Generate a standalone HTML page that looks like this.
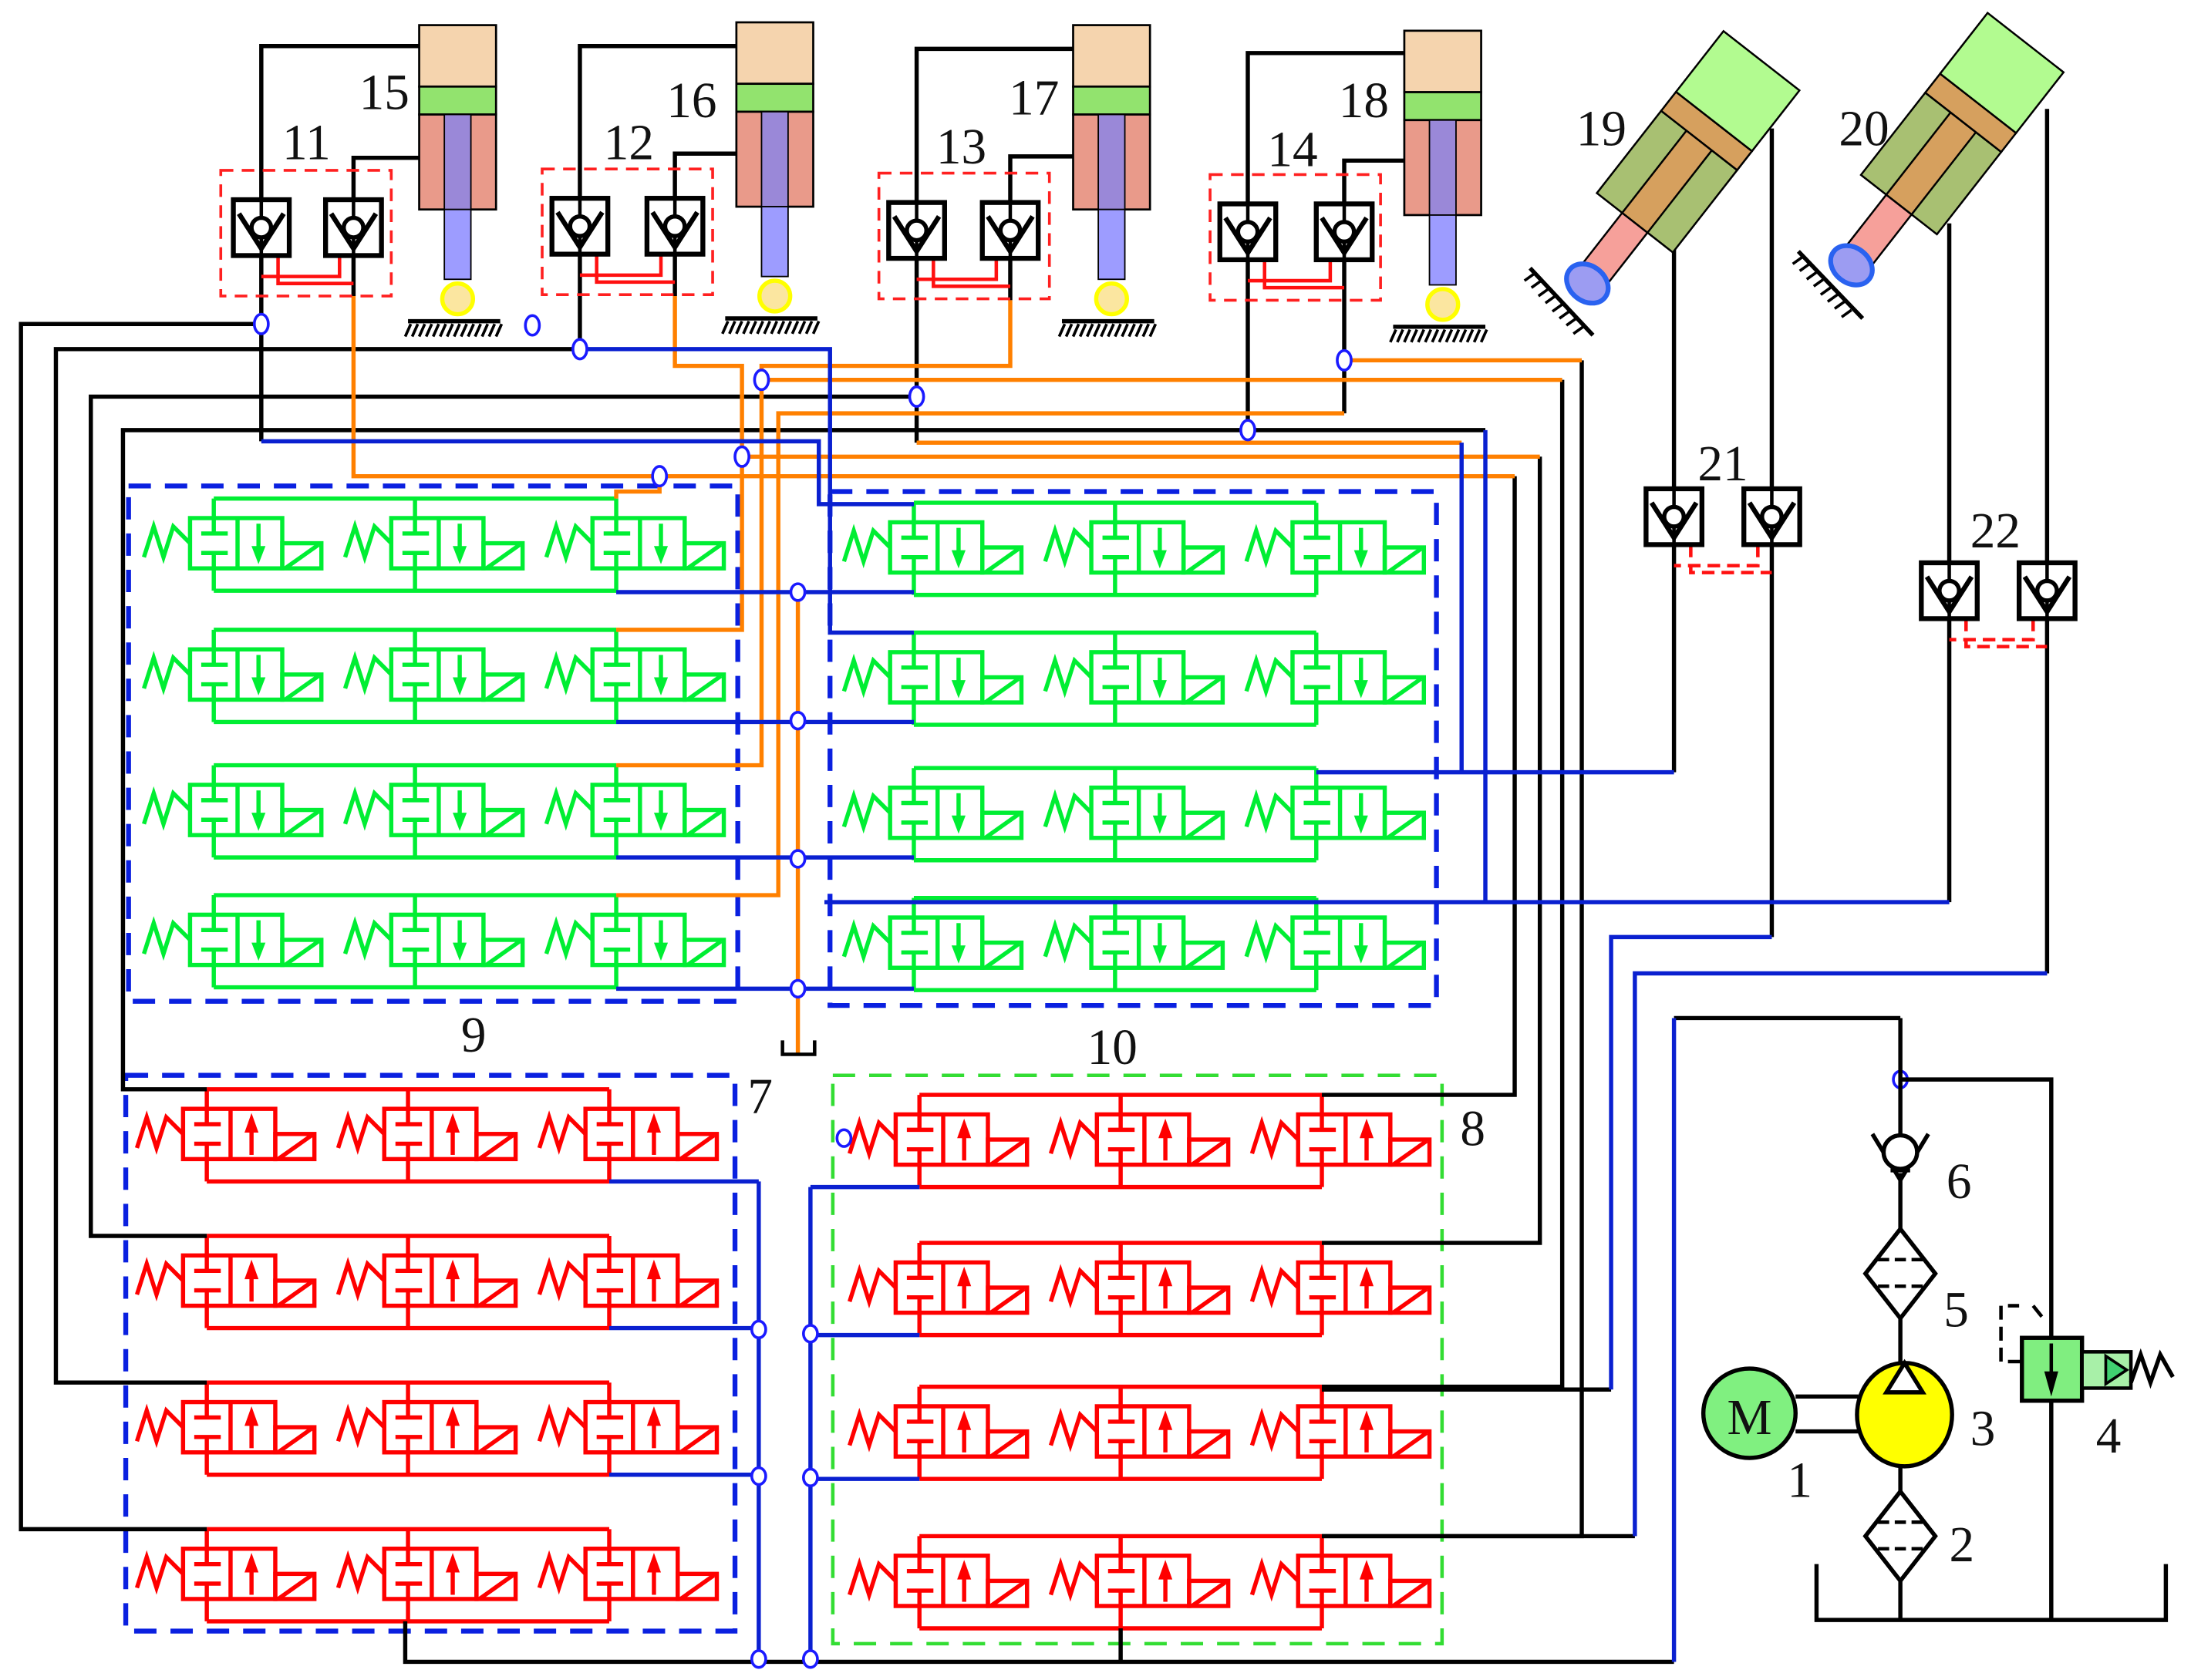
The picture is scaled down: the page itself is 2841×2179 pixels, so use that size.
<!DOCTYPE html>
<html><head><meta charset="utf-8"><style>
html,body{margin:0;padding:0;background:#fff;}
svg{display:block;}
text{font-family:"Liberation Serif",serif;fill:#111;}
</style></head><body>
<svg width="2841" height="2179" viewBox="0 0 1568 1203" preserveAspectRatio="none" xmlns="http://www.w3.org/2000/svg">
<defs>
<g id="vd" fill="none" stroke-width="3" stroke-linejoin="miter">
 <polyline points="1,42 8,20 15,42 22,20 34,32"/>
 <rect x="34" y="14" width="66" height="36"/>
 <line x1="68" y1="14" x2="68" y2="50"/>
 <line x1="51" y1="0" x2="51" y2="25"/><line x1="51" y1="39" x2="51" y2="66"/>
 <line x1="42" y1="25" x2="61" y2="25"/><line x1="42" y1="39" x2="61" y2="39"/>
 <line x1="83" y1="18" x2="83" y2="38"/>
 <polygon points="78,34 88,34 83,47" fill="currentColor" stroke="none"/>
 <rect x="100" y="32" width="28" height="18"/>
 <line x1="102" y1="50" x2="126" y2="33"/>
</g>
<g id="vu" fill="none" stroke-width="3">
 <polyline points="1,42 8,20 15,42 22,20 34,32"/>
 <rect x="34" y="14" width="66" height="36"/>
 <line x1="68" y1="14" x2="68" y2="50"/>
 <line x1="51" y1="0" x2="51" y2="25"/><line x1="51" y1="39" x2="51" y2="66"/>
 <line x1="42" y1="25" x2="61" y2="25"/><line x1="42" y1="39" x2="61" y2="39"/>
 <line x1="83" y1="28" x2="83" y2="47"/>
 <polygon points="78,31 88,31 83,17" fill="currentColor" stroke="none"/>
 <rect x="100" y="32" width="28" height="18"/>
 <line x1="102" y1="50" x2="126" y2="33"/>
</g>
<g id="rowd" style="stroke:currentColor">
 <use href="#vd" x="0"/><use href="#vd" x="144"/><use href="#vd" x="288"/>
 <line x1="51" y1="0" x2="339" y2="0" stroke-width="3"/>
 <line x1="51" y1="66" x2="339" y2="66" stroke-width="3"/>
</g>
<g id="rowu" style="stroke:currentColor">
 <use href="#vu" x="0"/><use href="#vu" x="144"/><use href="#vu" x="288"/>
 <line x1="51" y1="0" x2="339" y2="0" stroke-width="3"/>
 <line x1="51" y1="66" x2="339" y2="66" stroke-width="3"/>
</g>
<g id="cv">
 <rect x="-20" y="0" width="40" height="40" fill="#fff" stroke="#000" stroke-width="3.5"/>
 <line x1="0" y1="0" x2="0" y2="40" stroke="#000" stroke-width="2.5"/>
 <polyline points="-16,10 0,35 16,10" fill="none" stroke="#000" stroke-width="3.5"/>
 <circle cx="0" cy="20" r="7" fill="#fff" stroke="#000" stroke-width="3"/>
</g>
<g id="vcyl">
 <rect x="0" y="0" width="55" height="44" fill="#f5d4ae" stroke="#000" stroke-width="1.5"/>
 <rect x="0" y="44" width="55" height="20" fill="#92e36e" stroke="#000" stroke-width="1.5"/>
 <rect x="0" y="64" width="55" height="68" fill="#e99a8a" stroke="#000" stroke-width="1.5"/>
 <rect x="18" y="64" width="19" height="68" fill="#9a88d8" stroke="#000" stroke-width="1"/>
 <rect x="18" y="132" width="19" height="50" fill="#9d9cff" stroke="#000" stroke-width="1"/>
 <circle cx="27.5" cy="196" r="11" fill="#fbe6a0" stroke="#ffff00" stroke-width="3"/>
 <line x1="-8" y1="212" x2="58" y2="212" stroke="#000" stroke-width="3"/>
 <path d="M-6,214 l-4,9 M-1,214 l-4,9 M4,214 l-4,9 M9,214 l-4,9 M14,214 l-4,9 M19,214 l-4,9 M24,214 l-4,9 M29,214 l-4,9 M34,214 l-4,9 M39,214 l-4,9 M44,214 l-4,9 M49,214 l-4,9 M54,214 l-4,9 M59,214 l-4,9" stroke="#000" stroke-width="2"/>
</g>
<g id="acyl">
 <rect x="8" y="-10" width="50" height="20" fill="#f6a09a" stroke="#000" stroke-width="1.2"/>
 <rect x="48" y="-30" width="65" height="60" fill="#a8c072" stroke="#000" stroke-width="1.2"/>
 <rect x="48" y="-10" width="65" height="20" fill="#d6a05e" stroke="#000" stroke-width="1.2"/>
 <rect x="113" y="-30" width="15" height="60" fill="#d6a05e" stroke="#000" stroke-width="1.2"/>
 <rect x="128" y="-30" width="48" height="60" fill="#b2fb90" stroke="#000" stroke-width="1.2"/>
 <ellipse cx="0" cy="0" rx="11" ry="14" fill="#9c9cf2" stroke="#2a62f0" stroke-width="3"/>
</g>
</defs>

<g fill="none" stroke-width="3.5" stroke-dasharray="16,10">
 <rect x="92" y="348" width="436" height="369" stroke="#0a20e0"/>
 <rect x="594" y="352" width="434" height="368" stroke="#0a20e0"/>
 <rect x="90" y="770" width="436" height="398" stroke="#0a20e0"/>
 <rect x="596" y="770" width="436" height="407" stroke="#33dd33" stroke-width="2.5"/>
</g>

<g style="color:#00ee33">
 <use href="#rowd" x="102" y="357"/><use href="#rowd" x="102" y="451"/><use href="#rowd" x="102" y="548"/><use href="#rowd" x="102" y="641"/>
 <use href="#rowd" x="603" y="360"/><use href="#rowd" x="603" y="453"/><use href="#rowd" x="603" y="550"/><use href="#rowd" x="603" y="643"/>
</g>
<g style="color:#ff0000">
 <use href="#rowu" x="97" y="780"/><use href="#rowu" x="97" y="885"/><use href="#rowu" x="97" y="990"/><use href="#rowu" x="97" y="1095"/>
 <use href="#rowu" x="607" y="784"/><use href="#rowu" x="607" y="890"/><use href="#rowu" x="607" y="993"/><use href="#rowu" x="607" y="1100"/>
</g>

<g fill="none" stroke-width="3" stroke-linejoin="miter">
 <g stroke="#000">
  <path d="M300,33 H187 V143 M187,183 V316"/>
  <path d="M187,232 H15 V1095 H148"/>
  <path d="M300,113 H253 V143 M253,183 V212"/>
  <path d="M1084,341 V784 H946"/>
  <path d="M527,33 H415 V142 M415,182 V250"/>
  <path d="M415,250 H40 V990 H148"/>
  <path d="M527,110 H483 V142 M483,182 V212"/>
  <path d="M1102,327 V890 H946"/>
  <path d="M768,35 H656 V145 M656,185 V317"/>
  <path d="M656,284 H65 V885 H148"/>
  <path d="M768,112 H723 V145 M723,185 V215"/>
  <path d="M1118,272 V993 H946"/>
  <path d="M1005,38 H893 V146 M893,186 V308"/>
  <path d="M893,308 H88 V780 H148"/>
  <path d="M893,308 H1063"/>
  <path d="M1005,115 H962 V146 M962,186 V296"/>
  <path d="M1132,258 V1100 H946"/>
  <path d="M1198,178 V350 M1198,390 V553"/>
  <path d="M1268,92 V350 M1268,390 V671"/>
  <path d="M1395,160 V403 M1395,443 V646"/>
  <path d="M1465,78 V403 M1465,443 V697"/>
  <path d="M1153,995 H946"/>
  <path d="M1170,1100 H946"/>
  <path d="M1360,729 H1198"/>
  <path d="M1198,1190 H290 V1161"/>
  <path d="M802,1166 V1190"/>
 </g>
 <g stroke="#ff8000">
  <path d="M253,212 V341 H1084"/>
  <path d="M472,341 V352 H441 V357"/>
  <path d="M483,212 V262 H531 V451 H441"/>
  <path d="M531,327 H1102"/>
  <path d="M656,317 H1046"/>
  <path d="M723,215 V262 H545 V548 H441"/>
  <path d="M545,272 H1118"/>
  <path d="M962,296 H557 V641 H441"/>
  <path d="M962,258 H1132"/>
  <path d="M571,418 V755"/>
 </g>
 <g stroke="#0a20d0">
  <path d="M187,316 H586 V361 H654"/>
  <path d="M415,250 H594 V453 H654"/>
  <path d="M1046,317 V553"/>
  <path d="M1063,308 V646"/>
  <path d="M942,553 H1198"/>
  <path d="M590,646 H1395"/>
  <path d="M1268,671 H1153 V995"/>
  <path d="M1465,697 H1170 V1100"/>
  <path d="M1198,729 V1190"/>
  <path d="M441,424 H654 M441,517 H654 M441,614 H654 M441,708 H654"/>
  <path d="M436,846 H543 M436,951 H543 M436,1056 H543 M543,846 V1190"/>
  <path d="M658,850 H580 M658,956 H580 M658,1059 H580 M580,850 V1190"/>
 </g>
 <path d="M560,745 V755 H583 V745" stroke="#000" stroke-width="2.5"/>
</g>

<g fill="#fff" stroke="#1a1aff" stroke-width="2">
 <ellipse cx="187" cy="232" rx="5" ry="7"/><ellipse cx="415" cy="250" rx="5" ry="7"/>
 <ellipse cx="656" cy="284" rx="5" ry="7"/><ellipse cx="893" cy="308" rx="5" ry="7"/>
 <ellipse cx="962" cy="258" rx="5" ry="7"/><ellipse cx="545" cy="272" rx="5" ry="7"/>
 <ellipse cx="531" cy="327" rx="5" ry="7"/><ellipse cx="472" cy="341" rx="5" ry="7"/>
 <ellipse cx="381" cy="233" rx="5" ry="7"/><ellipse cx="604" cy="815" rx="5" ry="6"/>
 <ellipse cx="571" cy="424" rx="5" ry="6"/><ellipse cx="571" cy="516" rx="5" ry="6"/>
 <ellipse cx="571" cy="615" rx="5" ry="6"/><ellipse cx="571" cy="708" rx="5" ry="6"/>
 <ellipse cx="543" cy="952" rx="5" ry="6"/><ellipse cx="543" cy="1057" rx="5" ry="6"/><ellipse cx="543" cy="1188" rx="5" ry="6"/>
 <ellipse cx="580" cy="955" rx="5" ry="6"/><ellipse cx="580" cy="1058" rx="5" ry="6"/><ellipse cx="580" cy="1188" rx="5" ry="6"/>
 <ellipse cx="1360" cy="773" rx="5" ry="6"/>
</g>

<use href="#vcyl" x="300" y="18"/>
<use href="#vcyl" x="527" y="16"/>
<use href="#vcyl" x="768" y="18"/>
<use href="#vcyl" x="1005" y="22"/>

<g fill="none" stroke="#ff2020" stroke-width="2" stroke-dasharray="9,6">
 <rect x="158" y="122" width="122" height="90"/>
 <rect x="388" y="121" width="122" height="90"/>
 <rect x="629" y="124" width="122" height="90"/>
 <rect x="866" y="125" width="122" height="90"/>
</g>
<g fill="none" stroke="#ff1010" stroke-width="2.5">
 <path d="M199,183 V203 H253 M243,183 V198 H187"/>
 <path d="M427,182 V202 H483 M473,182 V197 H415"/>
 <path d="M668,185 V205 H723 M713,185 V200 H656"/>
 <path d="M905,186 V206 H962 M952,186 V201 H893"/>
 <path d="M1210,390 V410 H1268 M1258,390 V405 H1198" stroke-dasharray="9,5"/>
 <path d="M1407,443 V463 H1465 M1455,443 V458 H1395" stroke-dasharray="9,5"/>
</g>
<use href="#cv" x="187" y="143"/><use href="#cv" x="253" y="143"/>
<use href="#cv" x="415" y="142"/><use href="#cv" x="483" y="142"/>
<use href="#cv" x="656" y="145"/><use href="#cv" x="723" y="145"/>
<use href="#cv" x="893" y="146"/><use href="#cv" x="962" y="146"/>
<use href="#cv" x="1198" y="350"/><use href="#cv" x="1268" y="350"/>
<use href="#cv" x="1395" y="403"/><use href="#cv" x="1465" y="403"/>

<g transform="translate(1136,203) rotate(-52) scale(1.15)"><use href="#acyl"/></g>
<g transform="translate(1325,190) rotate(-52) scale(1.15)"><use href="#acyl"/></g>
<g stroke="#000" stroke-width="3" fill="none">
 <line x1="1095" y1="192" x2="1140" y2="240"/>
 <path d="M1098,196 l-7,5 M1103,201 l-7,5 M1108,207 l-7,5 M1113,212 l-7,5 M1118,218 l-7,5 M1123,223 l-7,5 M1128,228 l-7,5 M1133,234 l-7,5" stroke-width="2"/>
 <line x1="1287" y1="180" x2="1333" y2="228"/>
 <path d="M1290,184 l-7,5 M1295,189 l-7,5 M1300,195 l-7,5 M1305,200 l-7,5 M1310,206 l-7,5 M1315,211 l-7,5 M1320,216 l-7,5 M1325,222 l-7,5" stroke-width="2"/>
</g>

<g fill="none" stroke="#000" stroke-width="3">
 <path d="M1360,729 V812"/>
 <path d="M1360,773 H1468 V958"/>
 <path d="M1468,1003 V1160"/>
 <path d="M1300,1120 V1160 H1550 V1120"/>
 <path d="M1360,840 V880 M1360,944 V978 M1360,1047 V1068 M1360,1132 V1160"/>
 <polyline points="1340,812 1360,845 1380,812"/>
 <line x1="1353" y1="838" x2="1367" y2="838"/>
 <polygon points="1360,880 1385,912 1360,944 1335,912" fill="#fff"/>
 <path d="M1344,902 h8 M1368,902 h8 M1344,921 h8 M1368,921 h8 M1356,902 h8 M1356,921 h8" stroke-width="2.5"/>
 <polygon points="1360,1068 1385,1100 1360,1132 1335,1100" fill="#fff"/>
 <path d="M1344,1090 h8 M1368,1090 h8 M1344,1109 h8 M1368,1109 h8 M1356,1090 h8 M1356,1109 h8" stroke-width="2.5"/>
 <line x1="1285" y1="1000" x2="1330" y2="1000"/><line x1="1285" y1="1025" x2="1330" y2="1025"/>
</g>
<circle cx="1360" cy="825" r="12" fill="#fff" stroke="#000" stroke-width="3"/>
<ellipse cx="1252" cy="1012" rx="33" ry="32" fill="#80f080" stroke="#000" stroke-width="3"/>
<text x="1252" y="1027" font-size="36" text-anchor="middle">M</text>
<ellipse cx="1363" cy="1013" rx="34" ry="37" fill="#ffff00" stroke="#000" stroke-width="3"/>
<polygon points="1350,997 1376,997 1363,976" fill="#fff" stroke="#000" stroke-width="3"/>
<rect x="1447" y="958" width="43" height="45" fill="#80ee80" stroke="#000" stroke-width="3"/>
<line x1="1468" y1="962" x2="1468" y2="990" stroke="#000" stroke-width="2.5"/>
<polygon points="1463,982 1473,982 1468,1000" fill="#000"/>
<rect x="1490" y="968" width="35" height="26" fill="#a8f0a8" stroke="#000" stroke-width="2.5"/>
<polygon points="1507,971 1522,981 1507,991" fill="#40d070" stroke="#000" stroke-width="2"/>
<polyline points="1525,990 1532,970 1539,990 1546,970 1555,986" fill="none" stroke="#000" stroke-width="3"/>
<path d="M1447,975 H1432 V935 H1445 M1455,935 l8,10" fill="none" stroke="#000" stroke-width="2.5" stroke-dasharray="10,5"/>

<g font-size="36">
 <text x="202" y="114">11</text><text x="257" y="78">15</text>
 <text x="432" y="114">12</text><text x="477" y="84">16</text>
 <text x="670" y="117">13</text><text x="722" y="82">17</text>
 <text x="907" y="119">14</text><text x="958" y="84">18</text>
 <text x="1128" y="104">19</text><text x="1316" y="104">20</text>
 <text x="1215" y="344">21</text><text x="1410" y="392">22</text>
 <text x="330" y="753">9</text><text x="778" y="762">10</text>
 <text x="535" y="797">7</text><text x="1045" y="820">8</text>
 <text x="1393" y="858">6</text><text x="1391" y="950">5</text>
 <text x="1410" y="1035">3</text><text x="1279" y="1072">1</text>
 <text x="1500" y="1040">4</text><text x="1395" y="1118">2</text>
</g>
</svg>
</body></html>
